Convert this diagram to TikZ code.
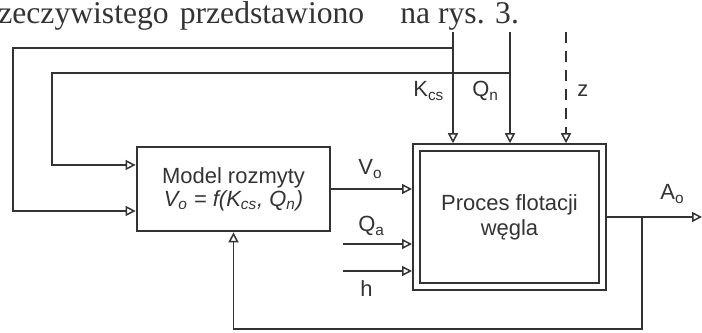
\documentclass[tikz,border=0pt]{standalone}
\usepackage{fontspec}
\setmainfont{Liberation Sans}
\newfontfamily\tekstserif{Liberation Serif}
\usetikzlibrary{arrows.meta}

\tikzset{
  blok/.style={draw, line width=0.55mm, minimum width=38.6mm, minimum height=16.8mm,
    align=center, inner sep=0pt, font=\fontsize{12.5}{13}\selectfont},
  proces/.style={draw, line width=0.4mm, double, double distance=1mm, minimum width=37.2mm,
    minimum height=27.7mm, align=center, outer sep=0.9mm, font=\fontsize{12.5}{14.2}\selectfont},
  sygnal/.style={line width=0.3mm, -{Triangle[open, length=2mm, width=2mm]}},
  opis/.style={anchor=base west, inner sep=0pt},
  akapit/.style={anchor=base west, inner sep=0pt},
}

\begin{document}
\begin{tikzpicture}[x=0.2mm, y=-0.2mm, font=\fontsize{12.5}{15}\selectfont, color=black!80]
    \useasboundingbox (0,0) rectangle (702,333);
    % fragment tekstu nad rysunkiem
    \node[akapit] (tekst1) at (-2,24) {\tekstserif\fontsize{18}{21}\selectfont zeczywistego\hspace{0.35em}przedstawiono};
    \node[akapit] (tekst2) at (400,24) {\tekstserif\fontsize{18}{21}\selectfont na rys. 3.};

    % bloki
    \node[blok] (model) at (233.5,189) {Model rozmyty\\ \textit{V\textsubscript{o} = f(K\textsubscript{cs}, Q\textsubscript{n})}};
    \node[proces] (proc) at (509.5,217) {Proces flotacji\\ węgla};

    % punkty wejsc
    \coordinate (kcs) at (453,32);
    \coordinate (qn) at (510,32);
    \coordinate (z) at (566,32);
    \coordinate (w1) at (13,211);
    \coordinate (w2) at (52,165);
    \coordinate (qa) at (343,244);
    \coordinate (h) at (343,271);
    \coordinate (wy) at (702,217);
    \coordinate (roz) at (642,217);

    \draw[sygnal] (kcs) -- (kcs |- proc.north);
    \draw[sygnal] (qn) -- (qn |- proc.north);
    \draw[sygnal, dash pattern=on 2.2mm off 1.6mm] (z) -- (z |- proc.north);
    \draw[sygnal] (kcs |- 0,48) -| (w1) -- (w1 -| model.west);
    \draw[sygnal] (qn |- 0,73) -| (w2) -- (w2 -| model.west);
    \draw[sygnal] (model.east) -- (model.east -| proc.west);
    \draw[sygnal] (qa) -- (qa -| proc.west);
    \draw[sygnal] (h) -- (h -| proc.west);
    \draw[sygnal] (proc.east) -- (wy);
    \draw[sygnal] (roz) -- ++(0,112) -| (model.south);

    % opisy sygnalow
    \node[opis] (lkcs) at (413,97) {K\textsubscript{cs}};
    \node[opis] (lqn) at (472,97) {Q\textsubscript{n}};
    \node[opis] (lz) at (577,97) {z};
    \node[opis] (lvo) at (358,175) {V\textsubscript{o}};
    \node[opis] (lqa) at (358,232) {Q\textsubscript{a}};
    \node[opis] (lh) at (360,297) {h};
    \node[opis] (lao) at (660,200) {A\textsubscript{o}};
\end{tikzpicture}
\end{document}
